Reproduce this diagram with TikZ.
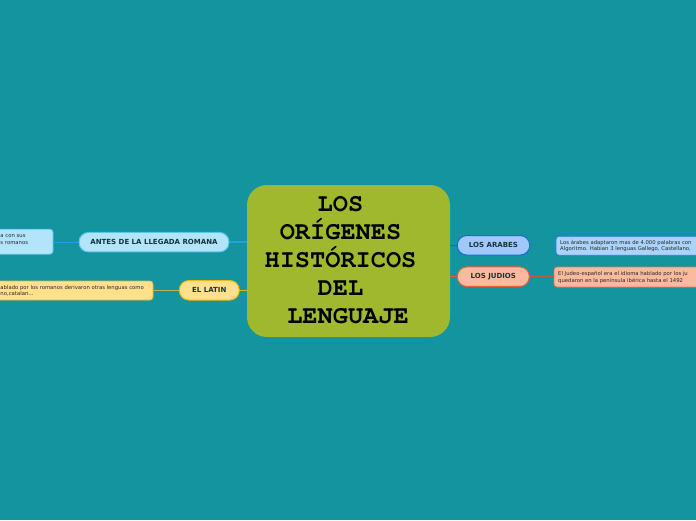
\documentclass[tikz,border=0pt]{standalone}
\usepackage[T1,TU]{fontenc}
\usepackage{fontspec}
\setmainfont{DejaVu Sans}
\newcommand{\corefont}{\fontencoding{T1}\fontfamily{pcr}\fontseries{b}\fontsize{25.3}{28}\selectfont}
\definecolor{bg}{RGB}{19,148,158}
\definecolor{core}{RGB}{160,184,46}
\definecolor{lbltext}{RGB}{22,52,60}
\definecolor{leaftext}{RGB}{40,40,40}
\definecolor{skyfill}{RGB}{178,228,250}
\definecolor{skydraw}{RGB}{90,195,240}
\definecolor{skyline}{RGB}{30,160,226}
\definecolor{yelfill}{RGB}{255,224,140}
\definecolor{yeldraw}{RGB}{240,182,20}
\definecolor{yelline}{RGB}{236,176,20}
\definecolor{yelleafdraw}{RGB}{228,180,70}
\definecolor{yelleafline}{RGB}{196,178,80}
\definecolor{blufill}{RGB}{160,200,250}
\definecolor{bludraw}{RGB}{25,105,222}
\definecolor{bluleaffill}{RGB}{172,212,250}
\definecolor{bluleafdraw}{RGB}{45,125,222}
\definecolor{bluleafline}{RGB}{30,130,210}
\definecolor{salfill}{RGB}{250,186,160}
\definecolor{saldraw}{RGB}{236,92,52}
\definecolor{salleafdraw}{RGB}{230,120,90}
\definecolor{salleafline}{RGB}{190,92,62}
\begin{document}
\begin{tikzpicture}[x=1pt,y=-1pt,
  lbl/.style={draw, line width=1pt, rounded corners=9.5pt, minimum height=19.5pt,
    inner sep=0pt, text=lbltext, font=\bfseries\fontsize{7}{8}\selectfont},
  leafbox/.style={draw, line width=0.8pt, rounded corners=3pt, inner sep=0pt},
  leaftxt/.style={anchor=base west, inner sep=0pt, text=leaftext,
    font=\fontsize{5.3}{6}\selectfont},
  coretxt/.style={anchor=base, inner sep=0pt, text=black, font=\corefont},
  mainline/.style={line width=1.5pt},
  leafline/.style={line width=1pt}]
\useasboundingbox (0,0) rectangle (696,520);
\fill[bg] (0,0) rectangle (696,520);

% central node
\node[fill=core, rounded corners=20pt, minimum width=203pt, minimum height=152pt, inner sep=0pt] (core) at (348.5,261) {};
\node[coretxt] (t1) at (340.5,211) {LOS};
\node[coretxt] (t2) at (340.5,239) {OR\'IGENES};
\node[coretxt] (t3) at (340.5,267) {HIST\'ORICOS};
\node[coretxt] (t4) at (340.5,295) {DEL};
\node[coretxt] (t5) at (348,323) {LENGUAJE};

% left branches
\node[lbl, fill=skyfill, draw=skydraw, minimum width=150pt] (antes) at (154,242.2) {ANTES DE LA LLEGADA ROMANA};
\node[lbl, fill=yelfill, draw=yeldraw, minimum width=60pt] (latin) at (209.3,290.3) {EL LATIN};
\node[leafbox, fill=skyfill, draw=skydraw, minimum width=63pt, minimum height=25pt] (leafa) at (21.5,241.7) {};
\node[leafbox, fill=yelfill, draw=yelleafdraw, minimum width=163pt, minimum height=19pt] (leafl) at (71.5,290.5) {};
\node[leaftxt] (la1) at (0.3,237) {a con sus};
\node[leaftxt] (la2) at (0.3,244) {s romanos};
\node[leaftxt] (ll1) at (0.3,289) {ablado por los romanos derivaron otras lenguas como};
\node[leaftxt] (ll2) at (0.3,295.8) {no,catalan...};

% right branches
\node[lbl, fill=blufill, draw=bludraw, minimum width=72.5pt] (arabes) at (493.5,245.3) {LOS ARABES};
\node[lbl, fill=salfill, draw=saldraw, minimum width=72pt] (judios) at (493.3,276.7) {LOS JUDIOS};
\node[leafbox, fill=bluleaffill, draw=bluleafdraw, minimum width=150pt, minimum height=19pt] (leafr) at (631,245.8) {};
\node[leafbox, fill=salfill, draw=salleafdraw, minimum width=152pt, minimum height=20pt] (leafj) at (630,277) {};
\node[leaftxt] (lr1) at (560,244) {Los árabes adaptaron mas de 4.000 palabras con};
\node[leaftxt] (lr2) at (560,250.5) {Algoritmo. Habian 3 lenguas Gallego, Castellano,};
\node[leaftxt] (lj1) at (558,275.5) {El Judeo-español era el idioma hablado por los ju};
\node[leaftxt] (lj2) at (558,282) {quedaron en la península ibérica hasta el 1492};

% connectors
\draw[mainline, skyline] (antes.east) -- (antes.east -| core.west);
\draw[mainline, yelline] (latin.east) -- (latin.east -| core.west);
\draw[mainline, bludraw] (arabes.west) -- (arabes.west -| core.east);
\draw[mainline, saldraw] (judios.west) -- (judios.west -| core.east);
\draw[leafline, skyline] (leafa.east |- antes.west) -- (antes.west);
\draw[leafline, yelleafline] (leafl.east |- latin.west) -- (latin.west);
\draw[leafline, bluleafline] (arabes.east) -- (arabes.east -| leafr.west);
\draw[leafline, salleafline] (judios.east) -- (judios.east -| leafj.west);
\end{tikzpicture}
\end{document}
